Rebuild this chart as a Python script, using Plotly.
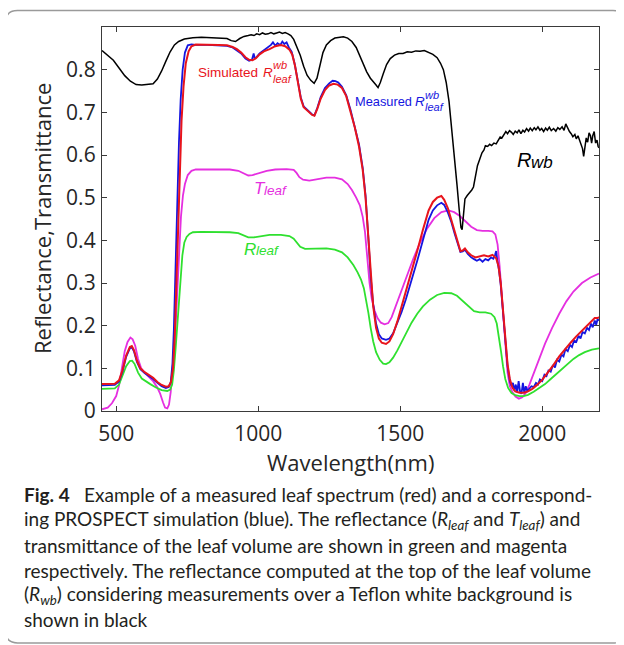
import plotly.graph_objects as go

# ---------------- data ----------------
wl_black = [450, 470, 490, 510, 530, 550, 570, 590, 610, 630, 645, 660, 675, 690, 705, 720, 740, 770, 800, 830, 860, 890, 905, 920, 935, 950, 965, 975, 985, 995, 1005, 1015, 1025, 1035, 1045, 1055, 1065, 1075, 1085, 1095, 1105, 1115, 1125, 1135, 1148, 1160, 1172, 1185, 1197, 1207, 1218, 1228, 1240, 1255, 1270, 1285, 1300, 1315, 1330, 1345, 1358, 1370, 1382, 1395, 1405, 1415, 1422, 1430, 1440, 1452, 1465, 1480, 1495, 1510, 1525, 1540, 1555, 1570, 1585, 1600, 1615, 1630, 1642, 1652, 1662, 1672, 1682, 1692, 1700, 1708, 1714, 1718, 1722, 1728, 1736, 1745, 1752, 1758, 1765, 1772, 1780, 1788, 1795, 1800, 1808, 1815, 1822, 1830, 1838, 1845, 1852, 1858, 1865, 1872, 1878, 1885, 1892, 1898, 1905, 1912, 1918, 1925, 1932, 1938, 1945, 1952, 1958, 1965, 1972, 1978, 1985, 1992, 1998, 2005, 2012, 2018, 2025, 2032, 2040, 2048, 2055, 2062, 2070, 2077, 2083, 2090, 2096, 2102, 2108, 2115, 2120, 2126, 2132, 2138, 2142, 2146, 2150, 2155, 2160, 2165, 2170, 2174, 2178, 2183, 2188, 2193, 2197, 2200]
r_wb = [0.845, 0.834, 0.822, 0.804, 0.786, 0.773, 0.765, 0.764, 0.766, 0.767, 0.778, 0.797, 0.820, 0.842, 0.858, 0.866, 0.872, 0.875, 0.876, 0.875, 0.875, 0.873, 0.868, 0.866, 0.873, 0.878, 0.880, 0.882, 0.880, 0.884, 0.882, 0.886, 0.883, 0.884, 0.887, 0.884, 0.886, 0.888, 0.885, 0.887, 0.884, 0.880, 0.871, 0.855, 0.834, 0.808, 0.787, 0.775, 0.768, 0.780, 0.812, 0.840, 0.858, 0.868, 0.874, 0.876, 0.877, 0.874, 0.866, 0.852, 0.832, 0.812, 0.795, 0.780, 0.773, 0.764, 0.758, 0.770, 0.790, 0.812, 0.826, 0.834, 0.838, 0.838, 0.842, 0.841, 0.844, 0.843, 0.845, 0.841, 0.836, 0.828, 0.815, 0.800, 0.770, 0.725, 0.660, 0.590, 0.530, 0.470, 0.430, 0.425, 0.455, 0.497, 0.505, 0.512, 0.518, 0.525, 0.550, 0.575, 0.590, 0.605, 0.612, 0.622, 0.620, 0.625, 0.622, 0.628, 0.626, 0.635, 0.642, 0.640, 0.648, 0.655, 0.650, 0.657, 0.653, 0.648, 0.656, 0.652, 0.659, 0.650, 0.658, 0.654, 0.662, 0.656, 0.663, 0.657, 0.664, 0.659, 0.666, 0.658, 0.662, 0.655, 0.663, 0.658, 0.665, 0.657, 0.662, 0.656, 0.664, 0.660, 0.666, 0.658, 0.673, 0.661, 0.655, 0.650, 0.643, 0.648, 0.638, 0.645, 0.632, 0.625, 0.615, 0.597, 0.620, 0.640, 0.630, 0.652, 0.645, 0.628, 0.645, 0.655, 0.628, 0.635, 0.620, 0.617]

wl_sim = [450, 470, 495, 510, 522, 535, 548, 555, 563, 573, 585, 600, 615, 630, 645, 660, 675, 685, 693, 700, 706, 712, 718, 724, 730, 737, 745, 755, 765, 780, 820, 860, 890, 910, 925, 940, 955, 968, 980, 992, 1005, 1020, 1040, 1060, 1080, 1095, 1110, 1120, 1130, 1140, 1150, 1160, 1175, 1190, 1198, 1208, 1220, 1235, 1250, 1265, 1280, 1295, 1310, 1325, 1340, 1355, 1368, 1378, 1388, 1396, 1405, 1415, 1425, 1435, 1450, 1462, 1475, 1490, 1505, 1520, 1540, 1560, 1580, 1600, 1615, 1630, 1645, 1655, 1668, 1680, 1692, 1703, 1712, 1720, 1728, 1738, 1750, 1765, 1780, 1795, 1810, 1825, 1838, 1846, 1854, 1862, 1870, 1878, 1886, 1895, 1905, 1920, 1935, 1950, 1965, 1980, 2000, 2020, 2040, 2060, 2080, 2100, 2120, 2140, 2160, 2175, 2185, 2195, 2200]
r_sim = [0.063, 0.063, 0.064, 0.072, 0.095, 0.130, 0.150, 0.152, 0.142, 0.118, 0.100, 0.091, 0.085, 0.078, 0.068, 0.061, 0.057, 0.058, 0.068, 0.100, 0.170, 0.300, 0.450, 0.580, 0.680, 0.760, 0.815, 0.843, 0.855, 0.859, 0.859, 0.858, 0.857, 0.853, 0.848, 0.840, 0.829, 0.823, 0.822, 0.827, 0.836, 0.843, 0.848, 0.855, 0.858, 0.855, 0.847, 0.835, 0.808, 0.770, 0.732, 0.712, 0.702, 0.694, 0.692, 0.708, 0.732, 0.752, 0.763, 0.767, 0.765, 0.757, 0.738, 0.702, 0.665, 0.620, 0.565, 0.500, 0.400, 0.310, 0.245, 0.195, 0.170, 0.160, 0.157, 0.163, 0.180, 0.210, 0.245, 0.280, 0.325, 0.375, 0.425, 0.470, 0.490, 0.500, 0.504, 0.495, 0.475, 0.448, 0.418, 0.392, 0.375, 0.376, 0.381, 0.372, 0.365, 0.360, 0.362, 0.365, 0.362, 0.366, 0.358, 0.340, 0.300, 0.235, 0.165, 0.110, 0.075, 0.055, 0.046, 0.043, 0.043, 0.046, 0.052, 0.060, 0.073, 0.090, 0.108, 0.128, 0.145, 0.160, 0.175, 0.188, 0.203, 0.212, 0.218, 0.218, 0.220]

wl_meas = [450, 470, 495, 510, 522, 535, 548, 555, 563, 573, 585, 600, 615, 630, 645, 660, 675, 685, 692, 698, 703, 709, 715, 721, 727, 734, 742, 752, 765, 780, 820, 860, 890, 910, 925, 940, 955, 968, 978, 984, 988, 995, 1005, 1020, 1035, 1045, 1052, 1060, 1068, 1078, 1085, 1092, 1100, 1108, 1118, 1128, 1140, 1150, 1160, 1175, 1190, 1198, 1208, 1220, 1235, 1250, 1262, 1272, 1282, 1295, 1310, 1325, 1340, 1355, 1368, 1378, 1388, 1396, 1405, 1415, 1425, 1435, 1450, 1462, 1475, 1490, 1505, 1520, 1540, 1560, 1580, 1600, 1615, 1630, 1645, 1655, 1668, 1680, 1692, 1703, 1712, 1720, 1728, 1738, 1750, 1760, 1770, 1780, 1790, 1800, 1810, 1820, 1828, 1834, 1838, 1842, 1848, 1854, 1862, 1870, 1878, 1886, 1892, 1897, 1902, 1907, 1912, 1917, 1922, 1927, 1932, 1937, 1942, 1948, 1955, 1962, 1970, 1978, 1985, 1992, 2000, 2008, 2015, 2022, 2030, 2038, 2045, 2052, 2060, 2068, 2075, 2082, 2090, 2098, 2105, 2112, 2120, 2128, 2135, 2142, 2150, 2158, 2165, 2172, 2178, 2185, 2190, 2195, 2200]
r_meas = [0.060, 0.060, 0.061, 0.069, 0.092, 0.127, 0.147, 0.149, 0.139, 0.115, 0.098, 0.089, 0.083, 0.075, 0.066, 0.058, 0.054, 0.056, 0.068, 0.110, 0.190, 0.340, 0.500, 0.630, 0.730, 0.800, 0.840, 0.857, 0.859, 0.858, 0.858, 0.857, 0.856, 0.852, 0.846, 0.838, 0.826, 0.821, 0.823, 0.838, 0.826, 0.830, 0.838, 0.846, 0.852, 0.858, 0.864, 0.856, 0.862, 0.858, 0.866, 0.860, 0.864, 0.852, 0.842, 0.815, 0.772, 0.735, 0.714, 0.704, 0.695, 0.693, 0.710, 0.736, 0.757, 0.768, 0.774, 0.773, 0.770, 0.760, 0.740, 0.706, 0.668, 0.625, 0.570, 0.505, 0.405, 0.315, 0.250, 0.205, 0.180, 0.170, 0.167, 0.170, 0.182, 0.205, 0.232, 0.262, 0.305, 0.352, 0.400, 0.448, 0.470, 0.482, 0.488, 0.483, 0.465, 0.443, 0.415, 0.390, 0.373, 0.374, 0.378, 0.368, 0.360, 0.356, 0.352, 0.356, 0.350, 0.356, 0.353, 0.360, 0.357, 0.366, 0.375, 0.352, 0.330, 0.295, 0.230, 0.160, 0.105, 0.070, 0.058, 0.066, 0.048, 0.062, 0.044, 0.070, 0.046, 0.040, 0.066, 0.042, 0.058, 0.047, 0.052, 0.058, 0.056, 0.066, 0.062, 0.074, 0.070, 0.085, 0.082, 0.095, 0.092, 0.108, 0.102, 0.120, 0.116, 0.132, 0.128, 0.145, 0.140, 0.155, 0.150, 0.165, 0.162, 0.176, 0.170, 0.185, 0.182, 0.195, 0.190, 0.205, 0.196, 0.212, 0.202, 0.215, 0.212]

wl_t = [450, 470, 485, 500, 510, 520, 530, 540, 550, 558, 567, 577, 588, 600, 615, 630, 645, 655, 665, 672, 680, 686, 692, 698, 704, 710, 716, 722, 728, 735, 742, 752, 765, 780, 850, 900, 930, 950, 965, 980, 1000, 1030, 1060, 1100, 1125, 1135, 1145, 1158, 1180, 1210, 1240, 1270, 1295, 1315, 1330, 1345, 1358, 1368, 1376, 1384, 1392, 1400, 1410, 1420, 1432, 1445, 1458, 1470, 1485, 1500, 1520, 1545, 1570, 1595, 1620, 1645, 1670, 1690, 1710, 1730, 1750, 1770, 1790, 1810, 1825, 1835, 1843, 1850, 1857, 1864, 1871, 1878, 1886, 1896, 1906, 1918, 1930, 1942, 1955, 1970, 1990, 2010, 2035, 2060, 2085, 2110, 2140, 2170, 2200]
t_leaf = [0.004, 0.008, 0.018, 0.035, 0.060, 0.100, 0.140, 0.162, 0.172, 0.168, 0.153, 0.122, 0.100, 0.090, 0.080, 0.070, 0.055, 0.040, 0.020, 0.008, 0.006, 0.015, 0.045, 0.090, 0.150, 0.210, 0.300, 0.390, 0.455, 0.505, 0.532, 0.553, 0.563, 0.566, 0.566, 0.566, 0.563, 0.556, 0.552, 0.553, 0.557, 0.563, 0.566, 0.567, 0.565, 0.558, 0.548, 0.542, 0.540, 0.543, 0.547, 0.547, 0.543, 0.532, 0.518, 0.500, 0.482, 0.455, 0.420, 0.360, 0.300, 0.262, 0.235, 0.218, 0.207, 0.203, 0.206, 0.220, 0.248, 0.275, 0.310, 0.355, 0.395, 0.428, 0.452, 0.466, 0.470, 0.466, 0.457, 0.445, 0.432, 0.424, 0.422, 0.422, 0.421, 0.414, 0.390, 0.340, 0.280, 0.210, 0.140, 0.090, 0.058, 0.043, 0.034, 0.029, 0.032, 0.042, 0.062, 0.088, 0.125, 0.158, 0.195, 0.228, 0.257, 0.280, 0.300, 0.313, 0.322]

wl_r = [450, 470, 495, 510, 522, 535, 548, 556, 565, 577, 590, 605, 620, 640, 660, 680, 690, 697, 703, 709, 715, 721, 727, 733, 740, 748, 758, 770, 800, 850, 900, 930, 950, 965, 985, 1010, 1040, 1080, 1110, 1125, 1135, 1148, 1165, 1200, 1240, 1270, 1295, 1315, 1335, 1350, 1362, 1372, 1380, 1388, 1396, 1405, 1415, 1428, 1440, 1450, 1462, 1475, 1490, 1505, 1520, 1540, 1560, 1580, 1605, 1630, 1655, 1680, 1700, 1720, 1740, 1760, 1780, 1800, 1820, 1832, 1840, 1848, 1855, 1862, 1870, 1880, 1892, 1905, 1920, 1935, 1950, 1970, 1990, 2010, 2030, 2050, 2070, 2090, 2110, 2130, 2150, 2175, 2200]
r_leaf = [0.052, 0.052, 0.053, 0.062, 0.082, 0.105, 0.117, 0.118, 0.110, 0.090, 0.076, 0.069, 0.063, 0.055, 0.049, 0.047, 0.050, 0.062, 0.095, 0.145, 0.200, 0.265, 0.325, 0.365, 0.395, 0.408, 0.415, 0.419, 0.420, 0.420, 0.419, 0.417, 0.412, 0.407, 0.407, 0.410, 0.413, 0.413, 0.410, 0.404, 0.395, 0.385, 0.380, 0.380, 0.381, 0.378, 0.372, 0.360, 0.342, 0.325, 0.308, 0.288, 0.262, 0.230, 0.195, 0.163, 0.138, 0.120, 0.111, 0.110, 0.114, 0.125, 0.142, 0.162, 0.182, 0.207, 0.228, 0.245, 0.261, 0.272, 0.277, 0.276, 0.270, 0.258, 0.244, 0.234, 0.231, 0.231, 0.228, 0.220, 0.205, 0.175, 0.140, 0.105, 0.075, 0.054, 0.042, 0.037, 0.035, 0.035, 0.038, 0.045, 0.053, 0.063, 0.075, 0.087, 0.100, 0.112, 0.122, 0.131, 0.138, 0.144, 0.147]

x_ticks = [500, 1000, 1500, 2000]
y_ticks = [0, 0.1, 0.2, 0.3, 0.4, 0.5, 0.6, 0.7, 0.8]
y_ticktext = ["0", "0.1", "0.2", "0.3", "0.4", "0.5", "0.6", "0.7", "0.8"]

caption_lines = [
    "ing PROSPECT simulation (blue). The reflectance (<i>R<sub>leaf</sub></i> and <i>T<sub>leaf</sub></i>) and",
    "transmittance of the leaf volume are shown in green and magenta",
    "respectively. The reflectance computed at the top of the leaf volume",
    "(<i>R<sub>wb</sub></i>) considering measurements over a Teflon white background is",
    "shown in black",
]

# ---------------- layout geometry ----------------
# the page body adds an 8px margin, so the figure is 8px smaller and shifted
OFF = 8
W, H = 624 - OFF, 645 - OFF
ML, MR, MT, MB = 102 - OFF, 25, 27 - OFF, 234
PW, PH = W - ML - MR, H - MT - MB


def px(X):
    return (X - OFF - ML) / PW


def py(Y):
    return (H - MB - (Y - OFF)) / PH


fig = go.Figure()

RED = "#e8141c"
BLUE = "#1515e0"
MAG = "#e52fe0"
GRN = "#2fe02f"

fig.add_trace(go.Scatter(x=wl_t, y=t_leaf, mode="lines", line=dict(color=MAG, width=1.8), hoverinfo="skip"))
fig.add_trace(go.Scatter(x=wl_r, y=r_leaf, mode="lines", line=dict(color=GRN, width=1.8), hoverinfo="skip"))
fig.add_trace(go.Scatter(x=wl_meas, y=r_meas, mode="lines", line=dict(color=BLUE, width=1.8), hoverinfo="skip"))
fig.add_trace(go.Scatter(x=wl_sim, y=r_sim, mode="lines", line=dict(color=RED, width=2), hoverinfo="skip"))
fig.add_trace(go.Scatter(x=wl_black, y=r_wb, mode="lines", line=dict(color="#000000", width=1.5), hoverinfo="skip"))

axis_common = dict(
    showgrid=False, zeroline=False, showline=True, linecolor="#3a3a3a", linewidth=1.3,
    mirror="ticks", ticks="inside", ticklen=5, tickwidth=1.2, tickcolor="#3a3a3a",
    tickfont=dict(family="Open Sans", size=21, color="#262626"),
)

fig.update_layout(
    width=W, height=H,
    margin=dict(l=ML, r=MR, t=MT, b=MB, pad=0),
    paper_bgcolor="white", plot_bgcolor="white",
    showlegend=False,
    xaxis=dict(range=[450, 2200], tickvals=x_ticks, ticklabelstandoff=4, **axis_common),
    yaxis=dict(range=[0, 0.9], tickvals=y_ticks, ticktext=y_ticktext, ticklabelstandoff=1, **axis_common),
)

ann = []


def add_text(X, Y, text, size, color, family="Liberation Sans", xanchor="left", angle=0):
    ann.append(dict(xref="paper", yref="paper", x=px(X), y=py(Y), text=text, showarrow=False,
                    xanchor=xanchor, yanchor="middle", textangle=angle, borderpad=0,
                    font=dict(family=family, size=size, color=color)))


# axis titles
add_text(350.5, 462, "Wavelength(nm)", 22, "#262626", family="Open Sans", xanchor="center")
add_text(42, 219, "Reflectance,Transmittance", 22, "#262626", family="Open Sans", xanchor="center", angle=-90)

# curve labels
add_text(197, 72, "Simulated", 13.5, RED)
add_text(262, 72, "<i>R</i>", 13.5, RED)
add_text(271.5, 65, "<i>wb</i>", 11, RED)
add_text(271.5, 79, "<i>leaf</i>", 11, RED)

add_text(354, 101.5, "Measured", 12.8, BLUE)
add_text(414, 101.5, "<i>R</i>", 13.5, BLUE)
add_text(423.5, 95, "<i>wb</i>", 11, BLUE)
add_text(423.5, 107.5, "<i>leaf</i>", 11, BLUE)

add_text(253, 188, "<i>T</i>", 17, MAG)
add_text(262.5, 190, "<i>leaf</i>", 13.5, MAG)
add_text(243, 249, "<i>R</i>", 17, GRN)
add_text(255, 251, "<i>leaf</i>", 13.5, GRN)
add_text(516, 160, "<i>R</i>", 20, "#000000")
add_text(530, 162, "<i>wb</i>", 17, "#000000")

# caption
CAP = "#231f20"
CAPSZ = 19
add_text(22.5, 494, "<b>Fig. 4</b>", CAPSZ, CAP, family="Lato")
add_text(83, 494, "Example of a measured leaf spectrum (red) and a correspond-", CAPSZ, CAP, family="Lato")
cap_y = [520, 545, 570, 595, 619]
for yy, line in zip(cap_y, caption_lines):
    add_text(22.5, yy, line, CAPSZ, CAP, family="Lato")

fig.update_layout(annotations=ann)

# rounded frame around the figure
L, T, R, B, r = 5.5, 10.5, 625.0, 643.0, 12.0
pts = [
    ("M", (L + r, T)), ("L", (R - r, T)), ("Q", (R, T), (R, T + r)), ("L", (R, B - r)),
    ("Q", (R, B), (R - r, B)), ("L", (L + r, B)), ("Q", (L, B), (L, B - r)), ("L", (L, T + r)),
    ("Q", (L, T), (L + r, T)),
]
path = ""
for item in pts:
    cmd = item[0]
    coords = " ".join(f"{px(a):.5f},{py(b):.5f}" for a, b in item[1:])
    path += f"{cmd}{coords} "
path += "Z"
fig.add_shape(type="path", path=path, xref="paper", yref="paper",
              line=dict(color="#9a9a9a", width=1.5), fillcolor="rgba(0,0,0,0)", layer="below")

fig.write_html("out.html")
